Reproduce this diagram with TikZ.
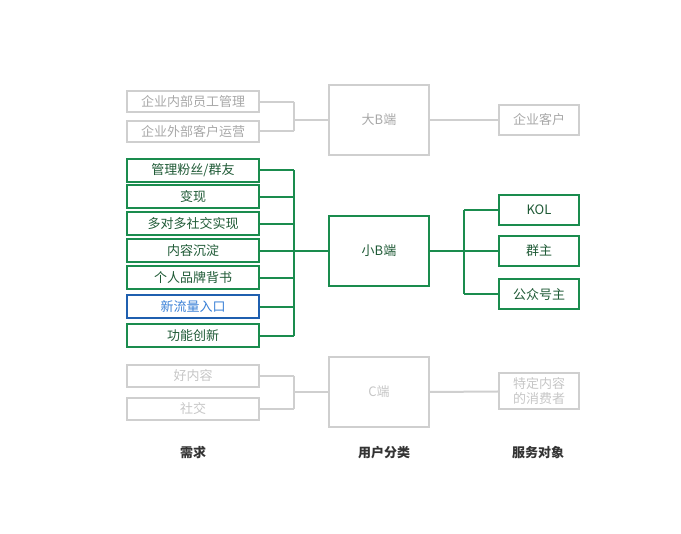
\documentclass[tikz,border=0pt]{standalone}
\usepackage{fontspec}
\setmainfont{Noto Sans CJK SC}
\definecolor{linegrey}{HTML}{CFCFCF}
\definecolor{textgrey}{HTML}{A8A8A8}
\definecolor{palegrey}{HTML}{C6C6C6}
\definecolor{boxgreen}{HTML}{1A8C4E}
\definecolor{textgreen}{HTML}{1F5A36}
\definecolor{boxblue}{HTML}{1F5FAF}
\definecolor{textblue}{HTML}{3A80D6}
\tikzset{
  box/.style={draw, rectangle, line width=2pt, inner sep=0pt,
    font=\fontsize{13}{15}\selectfont},
  greybox/.style={box, draw=linegrey, text=textgrey},
  paleBox/.style={box, draw=linegrey, text=palegrey},
  greenbox/.style={box, draw=boxgreen, text=textgreen},
  bluebox/.style={box, draw=boxblue, text=textblue},
  need/.style={minimum width=132pt, minimum height=21pt},
  kind/.style={minimum width=100pt, minimum height=70pt},
  target/.style={minimum width=80pt, minimum height=30pt},
  greyline/.style={linegrey, line width=2pt},
  greenline/.style={boxgreen, line width=2pt},
  title/.style={font=\fontsize{13}{15}\selectfont\bfseries, text=black!80}
}
\begin{document}
\begin{tikzpicture}[x=1pt,y=-1pt]
\useasboundingbox (0,0) rectangle (681,534);
% big B
\node[greybox, need] (g1) at (193,102) {企业内部员工管理};
\node[greybox, need] (g2) at (193,131.5) {企业外部客户运营};
\node[greybox, kind] (bigb) at (379,120) {大B端};
\node[greybox, target] (bigt) at (539,120) {企业客户};
\coordinate (gj) at (294,120);
\foreach \n in {g1,g2}{
  \draw[greyline] (\n.east) -- (\n.east -| gj);
}
\draw[greyline] (g1.east -| gj) -- (g2.east -| gj);
\draw[greyline] (gj) -- (bigb.west);
\draw[greyline] (bigb.east) -- (bigt.west);
% small B
\node[greenbox, need, minimum height=23pt] (s1) at (193,170.5) {管理粉丝/群友};
\node[greenbox, need, minimum height=23pt] (s2) at (193,197) {变现};
\node[greenbox, need, minimum height=23pt] (s3) at (193,224) {多对多社交实现};
\node[greenbox, need, minimum height=23pt] (s4) at (193,251) {内容沉淀};
\node[greenbox, need, minimum height=23pt] (s5) at (193,278) {个人品牌背书};
\node[bluebox, need, minimum height=23pt] (s6) at (193,307) {新流量入口};
\node[greenbox, need, minimum height=23pt] (s7) at (193,336) {功能创新};
\node[greenbox, kind] (smallb) at (379,251) {小B端};
\node[greenbox, target] (t1) at (539,210) {KOL};
\node[greenbox, target] (t2) at (539,251) {群主};
\node[greenbox, target] (t3) at (539,294.5) {公众号主};
\coordinate (sj) at (294,251);
\coordinate (tj) at (464,251);
\foreach \n in {s1,s2,s3,s4,s5,s6,s7}{
  \draw[greenline] (\n.east) -- (\n.east -| sj);
}
\draw[greenline] (s1.east -| sj) -- (s7.east -| sj);
\draw[greenline] (sj) -- (smallb.west);
\draw[greenline] (smallb.east) -- (tj);
\foreach \n in {t1,t2,t3}{
  \draw[greenline] (\n.west -| tj) -- (\n.west);
}
\draw[greenline] (t1.west -| tj) -- (t3.west -| tj);
% C
\node[paleBox, need, minimum height=22pt] (c1) at (193,376) {好内容};
\node[paleBox, need, minimum height=22pt] (c2) at (193,409) {社交};
\node[paleBox, kind] (cend) at (379,392) {C端};
\node[paleBox, target, minimum height=36pt, align=center,
  font=\fontsize{13}{15}\selectfont] (ct) at (539,391.5) {特定内容\\的消费者};
\coordinate (cj) at (294,392);
\foreach \n in {c1,c2}{
  \draw[greyline] (\n.east) -- (\n.east -| cj);
}
\draw[greyline] (c1.east -| cj) -- (c2.east -| cj);
\draw[greyline] (cj) -- (cend.west);
\draw[greyline] (cend.east) -- (ct.west);
% column titles
\node[title] (h1) at (193,453) {需求};
\node[title] (h2) at (384,453) {用户分类};
\node[title] (h3) at (538,453) {服务对象};
\end{tikzpicture}
\end{document}
